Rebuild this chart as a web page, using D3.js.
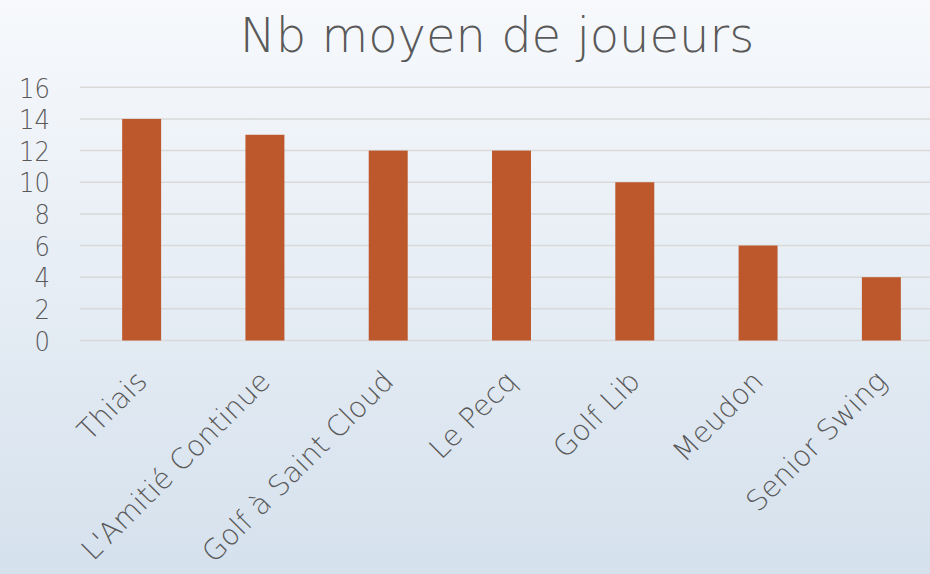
<!DOCTYPE html>
<html><head><meta charset="utf-8">
<script src="https://cdn.jsdelivr.net/npm/d3@7/dist/d3.min.js"></script>
<style>html,body{margin:0;padding:0;overflow:hidden;}</style>
</head><body>
<svg id="c" width="930" height="574"></svg>
<script>
const categories = ["Thiais","L'Amitié Continue","Golf à Saint Cloud","Le Pecq","Golf Lib","Meudon","Senior Swing"];
const values = [14,13,12,12,10,6,4];
const yTicks = [0,2,4,6,8,10,12,14,16];
const title = "Nb moyen de joueurs";

const svg = d3.select("#c");
const W = 930, H = 574;
const font = "'DejaVu Sans', sans-serif";
const defs = svg.append("defs");
const g = defs.append("linearGradient").attr("id","bg").attr("x1",0).attr("y1",0).attr("x2",0).attr("y2",1);
g.append("stop").attr("offset","0%").attr("stop-color","#f7f9fc");
g.append("stop").attr("offset","100%").attr("stop-color","#d5e1ed");
svg.append("rect").attr("width",W).attr("height",H).attr("fill","url(#bg)");

const x = d3.scaleBand().domain(categories).range([80, 943]).paddingInner(0.684).paddingOuter(0.342);
const y = d3.scaleLinear().domain([0,16]).range([340.5, 87.3]);

svg.append("g").selectAll("line").data(yTicks).join("line")
  .attr("x1",80).attr("x2",W).attr("y1",d=>y(d)).attr("y2",d=>y(d))
  .attr("stroke","#d9d9d9").attr("stroke-width",1.5);

svg.append("g").selectAll("rect").data(values).join("rect")
  .attr("x",(d,i)=>x(categories[i])).attr("width",x.bandwidth())
  .attr("y",d=>y(d)).attr("height",d=>y(0)-y(d))
  .attr("fill","#bd582c");

const yAxis = d3.axisLeft(y).tickValues(yTicks).tickSize(0).tickPadding(0);
const ya = svg.append("g").attr("transform","translate(50,0)").call(yAxis);
ya.select(".domain").remove();
ya.selectAll("text").attr("font-family",font).attr("font-size",27).attr("fill","#595959").attr("font-weight",200)
  .attr("dy","0.36em").attr("transform","scale(0.9,1)");

const xAxis = d3.axisBottom(x).tickSize(0).tickPadding(0);
const xa = svg.append("g").attr("transform","translate(0,340)").call(xAxis);
xa.select(".domain").remove();
xa.selectAll("text").attr("font-family",font).attr("font-size",28.5).attr("fill","#595959").attr("font-weight",200)
  .attr("text-anchor","end").attr("dy",null).attr("y",0)
  .attr("transform","translate(7,43) rotate(-45)");

svg.append("text").attr("x",497).attr("y",52).attr("text-anchor","middle")
  .attr("font-family",font).attr("font-size",48).attr("font-weight",200).attr("fill","#595959").text(title);
</script>
</body></html>
